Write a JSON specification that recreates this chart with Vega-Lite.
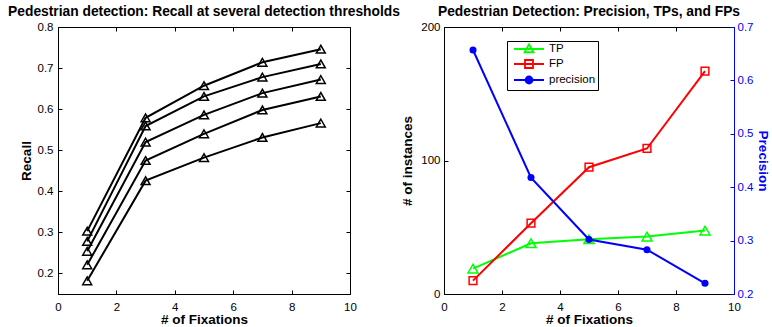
{
  "$schema": "https://vega.github.io/schema/vega-lite/v6.json",
  "autosize": {"type": "pad"},
  "padding": {"left": 7, "top": 4, "right": 0, "bottom": 0},
  "bounds": "flush",
  "spacing": 94,
  "background": "white",
  "config": {
    "font": "Liberation Sans",
    "view": {"stroke": "black", "strokeWidth": 1},
    "axis": {
      "labelFont": "Liberation Sans", "labelFontSize": 11.5, "labelColor": "black",
      "titleFont": "Liberation Sans", "titleFontSize": 13.5, "titleFontWeight": "bold", "titleColor": "black",
      "domainColor": "black", "tickColor": "black", "tickSize": -4, "grid": false,
      "domainWidth": 1, "tickWidth": 1, "labelFlush": false, "labelOverlap": false
    },
    "title": {"font": "Liberation Sans", "fontSize": 13.8, "fontWeight": "bold", "color": "black", "offset": 2}
  },
  "datasets": {
    "recall": [
      {"fix": 1, "thr": "t1", "recall": 0.303}, {"fix": 3, "thr": "t1", "recall": 0.579}, {"fix": 5, "thr": "t1", "recall": 0.657}, {"fix": 7, "thr": "t1", "recall": 0.714}, {"fix": 9, "thr": "t1", "recall": 0.746},
      {"fix": 1, "thr": "t2", "recall": 0.278}, {"fix": 3, "thr": "t2", "recall": 0.559}, {"fix": 5, "thr": "t2", "recall": 0.631}, {"fix": 7, "thr": "t2", "recall": 0.678}, {"fix": 9, "thr": "t2", "recall": 0.710},
      {"fix": 1, "thr": "t3", "recall": 0.254}, {"fix": 3, "thr": "t3", "recall": 0.520}, {"fix": 5, "thr": "t3", "recall": 0.586}, {"fix": 7, "thr": "t3", "recall": 0.639}, {"fix": 9, "thr": "t3", "recall": 0.672},
      {"fix": 1, "thr": "t4", "recall": 0.221}, {"fix": 3, "thr": "t4", "recall": 0.475}, {"fix": 5, "thr": "t4", "recall": 0.540}, {"fix": 7, "thr": "t4", "recall": 0.598}, {"fix": 9, "thr": "t4", "recall": 0.631},
      {"fix": 1, "thr": "t5", "recall": 0.182}, {"fix": 3, "thr": "t5", "recall": 0.426}, {"fix": 5, "thr": "t5", "recall": 0.482}, {"fix": 7, "thr": "t5", "recall": 0.531}, {"fix": 9, "thr": "t5", "recall": 0.566}
    ],
    "counts": [
      {"fix": 1, "series": "TP", "value": 19}, {"fix": 3, "series": "TP", "value": 38}, {"fix": 5, "series": "TP", "value": 41}, {"fix": 7, "series": "TP", "value": 43}, {"fix": 9, "series": "TP", "value": 47.5},
      {"fix": 1, "series": "FP", "value": 10}, {"fix": 3, "series": "FP", "value": 53}, {"fix": 5, "series": "FP", "value": 95}, {"fix": 7, "series": "FP", "value": 109}, {"fix": 9, "series": "FP", "value": 167}
    ],
    "prec": [
      {"fix": 1, "precision": 0.657}, {"fix": 3, "precision": 0.418}, {"fix": 5, "precision": 0.302}, {"fix": 7, "precision": 0.283}, {"fix": 9, "precision": 0.220}
    ],
    "legend": [{"key": "TP"}, {"key": "FP"}, {"key": "precision"}]
  },
  "hconcat": [
    {
      "width": 292, "height": 267,
      "title": {"text": "Pedestrian detection: Recall at several detection thresholds"},
      "data": {"name": "recall"},
      "resolve": {"scale": {"x": "independent", "y": "independent"}},
      "layer": [
        {
          "mark": {"type": "line", "color": "black", "strokeWidth": 2},
          "encoding": {
            "x": {"field": "fix", "type": "quantitative", "scale": {"domain": [0, 10]}, "axis": {"values": [0, 2, 4, 6, 8, 10], "title": "# of Fixations", "labelPadding": 11, "titlePadding": 0}},
            "y": {"field": "recall", "type": "quantitative", "scale": {"domain": [0.15, 0.8]}, "axis": {"values": [0.2, 0.3, 0.4, 0.5, 0.6, 0.7, 0.8], "format": ".1f", "title": "Recall", "labelPadding": 9, "titlePadding": 4}},
            "detail": {"field": "thr", "type": "nominal"}
          }
        },
        {
          "mark": {"type": "point", "shape": "triangle-up", "filled": false, "stroke": "black", "strokeWidth": 1.5, "size": 80, "opacity": 1},
          "encoding": {
            "x": {"field": "fix", "type": "quantitative", "scale": {"domain": [0, 10]}, "axis": null},
            "y": {"field": "recall", "type": "quantitative", "scale": {"domain": [0.15, 0.8]}, "axis": null}
          }
        },
        {
          "mark": {"type": "point", "opacity": 0},
          "encoding": {
            "x": {"field": "fix", "type": "quantitative", "scale": {"domain": [0, 10]}, "axis": {"orient": "top", "values": [0, 2, 4, 6, 8, 10], "labels": false, "domain": false, "title": null}},
            "y": {"field": "recall", "type": "quantitative", "scale": {"domain": [0.15, 0.8]}, "axis": {"orient": "right", "values": [0.2, 0.3, 0.4, 0.5, 0.6, 0.7, 0.8], "labels": false, "domain": false, "title": null}}
          }
        }
      ]
    },
    {
      "width": 290, "height": 267,
      "title": {"text": "Pedestrian Detection: Precision, TPs, and FPs"},
      "resolve": {"scale": {"x": "independent", "y": "independent"}},
      "layer": [
        {
          "data": {"name": "counts"},
          "mark": {"type": "line", "strokeWidth": 2},
          "encoding": {
            "x": {"field": "fix", "type": "quantitative", "scale": {"domain": [0, 10]}, "axis": {"values": [0, 2, 4, 6, 8, 10], "title": "# of Fixations", "labelPadding": 11, "titlePadding": 0}},
            "y": {"field": "value", "type": "quantitative", "scale": {"domain": [0, 200]}, "axis": {"values": [0, 100, 200], "title": "# of instances", "labelPadding": 8, "titlePadding": 6}},
            "color": {"field": "series", "type": "nominal", "scale": {"domain": ["TP", "FP"], "range": ["#00ff00", "#ff0000"]}, "legend": null}
          }
        },
        {
          "data": {"name": "counts"},
          "transform": [{"filter": "datum.series === 'TP'"}],
          "mark": {"type": "point", "shape": "triangle-up", "filled": false, "stroke": "#00ff00", "strokeWidth": 1.5, "size": 100, "opacity": 1},
          "encoding": {
            "x": {"field": "fix", "type": "quantitative", "scale": {"domain": [0, 10]}, "axis": null},
            "y": {"field": "value", "type": "quantitative", "scale": {"domain": [0, 200]}, "axis": null}
          }
        },
        {
          "data": {"name": "counts"},
          "transform": [{"filter": "datum.series === 'FP'"}],
          "mark": {"type": "point", "shape": "square", "filled": false, "stroke": "#ff0000", "strokeWidth": 1.5, "size": 60, "opacity": 1},
          "encoding": {
            "x": {"field": "fix", "type": "quantitative", "scale": {"domain": [0, 10]}, "axis": null},
            "y": {"field": "value", "type": "quantitative", "scale": {"domain": [0, 200]}, "axis": null}
          }
        },
        {
          "data": {"name": "prec"},
          "mark": {"type": "line", "color": "#0000ff", "strokeWidth": 2},
          "encoding": {
            "x": {"field": "fix", "type": "quantitative", "scale": {"domain": [0, 10]}, "axis": {"orient": "top", "values": [0, 2, 4, 6, 8, 10], "labels": false, "domain": false, "title": null}},
            "y": {"field": "precision", "type": "quantitative", "scale": {"domain": [0.2, 0.7]}, "axis": {"orient": "right", "values": [0.2, 0.3, 0.4, 0.5, 0.6, 0.7], "format": ".1f", "title": "Precision", "labelColor": "#0000ff", "titleColor": "#0000ff", "domainColor": "#0000ff", "tickColor": "#0000ff", "labelPadding": 7, "titlePadding": 3}}
          }
        },
        {
          "data": {"name": "prec"},
          "mark": {"type": "point", "shape": "circle", "filled": true, "color": "#0000ff", "size": 50, "opacity": 1},
          "encoding": {
            "x": {"field": "fix", "type": "quantitative", "scale": {"domain": [0, 10]}, "axis": null},
            "y": {"field": "precision", "type": "quantitative", "scale": {"domain": [0.2, 0.7]}, "axis": null}
          }
        },
        {
          "data": {"name": "legend"},
          "mark": {"type": "point", "opacity": 0, "strokeWidth": 1.8},
          "encoding": {
            "shape": {"field": "key", "type": "nominal", "scale": {"domain": ["TP", "FP", "precision"], "range": ["M-0.2,0H5.8M2.8,-0.95L3.7,0.65H1.9Z", "M-0.2,0H5.8M2,-0.8H3.6V0.8H2Z", "M-0.2,0H5.8M3.5,0A0.7,0.7 0 1,1 2.1,0A0.7,0.7 0 1,1 3.5,0Z"]},
              "legend": {"orient": "none", "legendX": 449, "legendY": 14, "title": null, "padding": 2, "rowPadding": 0, "strokeColor": "black", "fillColor": "white", "cornerRadius": 0, "symbolSize": 100, "symbolStrokeWidth": 1.8, "symbolOpacity": 1, "labelFont": "Liberation Sans", "labelFontSize": 11.5, "labelColor": "black", "labelOffset": 28}},
            "stroke": {"field": "key", "type": "nominal", "scale": {"domain": ["TP", "FP", "precision"], "range": ["#00ff00", "#ff0000", "#0000ff"]},
              "legend": {"orient": "none", "legendX": 449, "legendY": 14, "title": null, "padding": 2, "rowPadding": 0, "strokeColor": "black", "fillColor": "white", "cornerRadius": 0, "symbolSize": 100, "symbolStrokeWidth": 1.8, "symbolOpacity": 1, "labelFont": "Liberation Sans", "labelFontSize": 11.5, "labelColor": "black", "labelOffset": 28}},
            "fill": {"field": "key", "type": "nominal", "scale": {"domain": ["TP", "FP", "precision"], "range": ["transparent", "transparent", "#0000ff"]},
              "legend": {"orient": "none", "legendX": 449, "legendY": 14, "title": null, "padding": 2, "rowPadding": 0, "strokeColor": "black", "fillColor": "white", "cornerRadius": 0, "symbolSize": 100, "symbolStrokeWidth": 1.8, "symbolOpacity": 1, "labelFont": "Liberation Sans", "labelFontSize": 11.5, "labelColor": "black", "labelOffset": 28}}
          }
        }
      ]
    }
  ]
}
